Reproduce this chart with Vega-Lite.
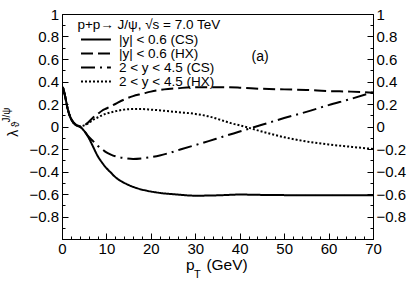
{
  "$schema": "https://vega.github.io/schema/vega-lite/v6.json",
  "width": 311,
  "height": 225,
  "autosize": {"type": "none"},
  "padding": {"left": 62, "top": 14, "right": 42, "bottom": 43},
  "background": "white",
  "config": {
    "font": "Liberation Sans",
    "view": {"stroke": "black", "strokeWidth": 1},
    "axis": {
      "grid": false,
      "labelFont": "Liberation Sans",
      "labelFontSize": 15,
      "labelColor": "black",
      "tickColor": "black",
      "domainColor": "black",
      "labelOverlap": false,
      "labelFlush": false,
      "labelBound": false
    },
    "text": {"font": "Liberation Sans", "color": "black"}
  },
  "resolve": {"axis": {"x": "independent", "y": "independent"}},
  "layer": [
    {
      "data": {
        "values": [
          {"series": "|y| < 0.6 (CS)", "pT": 0.2, "lam": 0.35},
          {"series": "|y| < 0.6 (CS)", "pT": 0.7, "lam": 0.27},
          {"series": "|y| < 0.6 (CS)", "pT": 1.2, "lam": 0.17},
          {"series": "|y| < 0.6 (CS)", "pT": 1.7, "lam": 0.1},
          {"series": "|y| < 0.6 (CS)", "pT": 2.3, "lam": 0.05},
          {"series": "|y| < 0.6 (CS)", "pT": 3, "lam": 0.02},
          {"series": "|y| < 0.6 (CS)", "pT": 4, "lam": 0.0},
          {"series": "|y| < 0.6 (CS)", "pT": 5, "lam": -0.04},
          {"series": "|y| < 0.6 (CS)", "pT": 6, "lam": -0.1},
          {"series": "|y| < 0.6 (CS)", "pT": 7, "lam": -0.18},
          {"series": "|y| < 0.6 (CS)", "pT": 8, "lam": -0.26},
          {"series": "|y| < 0.6 (CS)", "pT": 9, "lam": -0.32},
          {"series": "|y| < 0.6 (CS)", "pT": 10, "lam": -0.37},
          {"series": "|y| < 0.6 (CS)", "pT": 11, "lam": -0.41},
          {"series": "|y| < 0.6 (CS)", "pT": 12, "lam": -0.45},
          {"series": "|y| < 0.6 (CS)", "pT": 13.5, "lam": -0.49},
          {"series": "|y| < 0.6 (CS)", "pT": 15, "lam": -0.52},
          {"series": "|y| < 0.6 (CS)", "pT": 17, "lam": -0.55},
          {"series": "|y| < 0.6 (CS)", "pT": 19, "lam": -0.57},
          {"series": "|y| < 0.6 (CS)", "pT": 22, "lam": -0.59},
          {"series": "|y| < 0.6 (CS)", "pT": 26, "lam": -0.605},
          {"series": "|y| < 0.6 (CS)", "pT": 30, "lam": -0.615},
          {"series": "|y| < 0.6 (CS)", "pT": 35, "lam": -0.612},
          {"series": "|y| < 0.6 (CS)", "pT": 40, "lam": -0.605},
          {"series": "|y| < 0.6 (CS)", "pT": 45, "lam": -0.608},
          {"series": "|y| < 0.6 (CS)", "pT": 50, "lam": -0.61},
          {"series": "|y| < 0.6 (CS)", "pT": 60, "lam": -0.61},
          {"series": "|y| < 0.6 (CS)", "pT": 70, "lam": -0.61},

          {"series": "|y| < 0.6 (HX)", "pT": 0.2, "lam": 0.35},
          {"series": "|y| < 0.6 (HX)", "pT": 0.7, "lam": 0.27},
          {"series": "|y| < 0.6 (HX)", "pT": 1.2, "lam": 0.17},
          {"series": "|y| < 0.6 (HX)", "pT": 1.7, "lam": 0.1},
          {"series": "|y| < 0.6 (HX)", "pT": 2.3, "lam": 0.05},
          {"series": "|y| < 0.6 (HX)", "pT": 3, "lam": 0.015},
          {"series": "|y| < 0.6 (HX)", "pT": 4, "lam": 0.0},
          {"series": "|y| < 0.6 (HX)", "pT": 5, "lam": 0.01},
          {"series": "|y| < 0.6 (HX)", "pT": 6, "lam": 0.04},
          {"series": "|y| < 0.6 (HX)", "pT": 7, "lam": 0.08},
          {"series": "|y| < 0.6 (HX)", "pT": 8, "lam": 0.11},
          {"series": "|y| < 0.6 (HX)", "pT": 9, "lam": 0.14},
          {"series": "|y| < 0.6 (HX)", "pT": 10, "lam": 0.16},
          {"series": "|y| < 0.6 (HX)", "pT": 12, "lam": 0.2},
          {"series": "|y| < 0.6 (HX)", "pT": 14, "lam": 0.24},
          {"series": "|y| < 0.6 (HX)", "pT": 16, "lam": 0.27},
          {"series": "|y| < 0.6 (HX)", "pT": 18, "lam": 0.29},
          {"series": "|y| < 0.6 (HX)", "pT": 20, "lam": 0.31},
          {"series": "|y| < 0.6 (HX)", "pT": 23, "lam": 0.33},
          {"series": "|y| < 0.6 (HX)", "pT": 26, "lam": 0.34},
          {"series": "|y| < 0.6 (HX)", "pT": 30, "lam": 0.35},
          {"series": "|y| < 0.6 (HX)", "pT": 35, "lam": 0.35},
          {"series": "|y| < 0.6 (HX)", "pT": 40, "lam": 0.345},
          {"series": "|y| < 0.6 (HX)", "pT": 45, "lam": 0.335},
          {"series": "|y| < 0.6 (HX)", "pT": 50, "lam": 0.33},
          {"series": "|y| < 0.6 (HX)", "pT": 55, "lam": 0.325},
          {"series": "|y| < 0.6 (HX)", "pT": 60, "lam": 0.315},
          {"series": "|y| < 0.6 (HX)", "pT": 65, "lam": 0.31},
          {"series": "|y| < 0.6 (HX)", "pT": 70, "lam": 0.3},

          {"series": "2 < y < 4.5 (CS)", "pT": 0.2, "lam": 0.35},
          {"series": "2 < y < 4.5 (CS)", "pT": 0.7, "lam": 0.27},
          {"series": "2 < y < 4.5 (CS)", "pT": 1.2, "lam": 0.17},
          {"series": "2 < y < 4.5 (CS)", "pT": 1.7, "lam": 0.1},
          {"series": "2 < y < 4.5 (CS)", "pT": 2.3, "lam": 0.05},
          {"series": "2 < y < 4.5 (CS)", "pT": 3, "lam": 0.02},
          {"series": "2 < y < 4.5 (CS)", "pT": 4, "lam": 0.0},
          {"series": "2 < y < 4.5 (CS)", "pT": 5, "lam": -0.04},
          {"series": "2 < y < 4.5 (CS)", "pT": 6, "lam": -0.09},
          {"series": "2 < y < 4.5 (CS)", "pT": 7, "lam": -0.13},
          {"series": "2 < y < 4.5 (CS)", "pT": 8, "lam": -0.17},
          {"series": "2 < y < 4.5 (CS)", "pT": 9, "lam": -0.2},
          {"series": "2 < y < 4.5 (CS)", "pT": 10, "lam": -0.23},
          {"series": "2 < y < 4.5 (CS)", "pT": 11, "lam": -0.25},
          {"series": "2 < y < 4.5 (CS)", "pT": 12, "lam": -0.265},
          {"series": "2 < y < 4.5 (CS)", "pT": 14, "lam": -0.28},
          {"series": "2 < y < 4.5 (CS)", "pT": 16, "lam": -0.288},
          {"series": "2 < y < 4.5 (CS)", "pT": 18, "lam": -0.283},
          {"series": "2 < y < 4.5 (CS)", "pT": 20, "lam": -0.272},
          {"series": "2 < y < 4.5 (CS)", "pT": 22, "lam": -0.257},
          {"series": "2 < y < 4.5 (CS)", "pT": 24, "lam": -0.237},
          {"series": "2 < y < 4.5 (CS)", "pT": 27, "lam": -0.2},
          {"series": "2 < y < 4.5 (CS)", "pT": 30, "lam": -0.165},
          {"series": "2 < y < 4.5 (CS)", "pT": 33, "lam": -0.13},
          {"series": "2 < y < 4.5 (CS)", "pT": 36, "lam": -0.093},
          {"series": "2 < y < 4.5 (CS)", "pT": 40, "lam": -0.045},
          {"series": "2 < y < 4.5 (CS)", "pT": 45, "lam": 0.015},
          {"series": "2 < y < 4.5 (CS)", "pT": 50, "lam": 0.075},
          {"series": "2 < y < 4.5 (CS)", "pT": 55, "lam": 0.13},
          {"series": "2 < y < 4.5 (CS)", "pT": 60, "lam": 0.19},
          {"series": "2 < y < 4.5 (CS)", "pT": 65, "lam": 0.245},
          {"series": "2 < y < 4.5 (CS)", "pT": 70, "lam": 0.305},

          {"series": "2 < y < 4.5 (HX)", "pT": 0.2, "lam": 0.35},
          {"series": "2 < y < 4.5 (HX)", "pT": 0.7, "lam": 0.27},
          {"series": "2 < y < 4.5 (HX)", "pT": 1.2, "lam": 0.17},
          {"series": "2 < y < 4.5 (HX)", "pT": 1.7, "lam": 0.1},
          {"series": "2 < y < 4.5 (HX)", "pT": 2.3, "lam": 0.05},
          {"series": "2 < y < 4.5 (HX)", "pT": 3, "lam": 0.015},
          {"series": "2 < y < 4.5 (HX)", "pT": 4, "lam": 0.0},
          {"series": "2 < y < 4.5 (HX)", "pT": 5, "lam": 0.01},
          {"series": "2 < y < 4.5 (HX)", "pT": 6, "lam": 0.03},
          {"series": "2 < y < 4.5 (HX)", "pT": 7, "lam": 0.06},
          {"series": "2 < y < 4.5 (HX)", "pT": 8, "lam": 0.08},
          {"series": "2 < y < 4.5 (HX)", "pT": 9, "lam": 0.1},
          {"series": "2 < y < 4.5 (HX)", "pT": 10, "lam": 0.115},
          {"series": "2 < y < 4.5 (HX)", "pT": 12, "lam": 0.135},
          {"series": "2 < y < 4.5 (HX)", "pT": 14, "lam": 0.15},
          {"series": "2 < y < 4.5 (HX)", "pT": 16, "lam": 0.155},
          {"series": "2 < y < 4.5 (HX)", "pT": 18, "lam": 0.155},
          {"series": "2 < y < 4.5 (HX)", "pT": 20, "lam": 0.15},
          {"series": "2 < y < 4.5 (HX)", "pT": 23, "lam": 0.14},
          {"series": "2 < y < 4.5 (HX)", "pT": 26, "lam": 0.128},
          {"series": "2 < y < 4.5 (HX)", "pT": 30, "lam": 0.112},
          {"series": "2 < y < 4.5 (HX)", "pT": 33, "lam": 0.09},
          {"series": "2 < y < 4.5 (HX)", "pT": 36, "lam": 0.055},
          {"series": "2 < y < 4.5 (HX)", "pT": 38, "lam": 0.03},
          {"series": "2 < y < 4.5 (HX)", "pT": 41, "lam": 0.0},
          {"series": "2 < y < 4.5 (HX)", "pT": 45, "lam": -0.045},
          {"series": "2 < y < 4.5 (HX)", "pT": 50, "lam": -0.095},
          {"series": "2 < y < 4.5 (HX)", "pT": 55, "lam": -0.133},
          {"series": "2 < y < 4.5 (HX)", "pT": 60, "lam": -0.16},
          {"series": "2 < y < 4.5 (HX)", "pT": 65, "lam": -0.18},
          {"series": "2 < y < 4.5 (HX)", "pT": 70, "lam": -0.2}
        ]
      },
      "mark": {"type": "line", "interpolate": "monotone", "strokeWidth": 2, "color": "black", "strokeCap": "butt"},
      "encoding": {
        "x": {
          "field": "pT", "type": "quantitative",
          "scale": {"domain": [0, 70], "nice": false, "zero": false},
          "axis": {
            "orient": "bottom", "title": null,
            "values": [0,2,4,6,8,10,12,14,16,18,20,22,24,26,28,30,32,34,36,38,40,42,44,46,48,50,52,54,56,58,60,62,64,66,68,70],
            "tickSize": {"condition": {"test": "datum.value % 10 == 0", "value": -6}, "value": -3},
            "labelExpr": "datum.value % 10 == 0 ? format(datum.value, 'd') : ''",
            "labelPadding": 8
          }
        },
        "y": {
          "field": "lam", "type": "quantitative",
          "scale": {"domain": [-1, 1], "nice": false, "zero": false},
          "axis": {
            "orient": "left", "title": null,
            "values": [-1,-0.9,-0.8,-0.7,-0.6,-0.5,-0.4,-0.3,-0.2,-0.1,0,0.1,0.2,0.3,0.4,0.5,0.6,0.7,0.8,0.9,1],
            "tickSize": {"condition": {"test": "abs(round(datum.value*10)) % 2 == 0", "value": -6}, "value": -3},
            "labelExpr": "abs(round(datum.value*10)) % 2 == 0 && datum.value > -0.95 ? format(datum.value, '~g') : ''",
            "labelPadding": 9.5
          }
        },
        "strokeDash": {
          "field": "series", "type": "nominal",
          "scale": {
            "domain": ["|y| < 0.6 (CS)", "|y| < 0.6 (HX)", "2 < y < 4.5 (CS)", "2 < y < 4.5 (HX)"],
            "range": [[1, 0], [12, 5], [14, 5, 2, 5], [2, 2]]
          },
          "legend": {
            "orient": "none", "legendX": 15.4, "legendY": 4,
            "title": "p+p→ J/ψ, √s = 7.0 TeV",
            "titleFont": "Liberation Sans", "titleFontSize": 13.5, "titleFontWeight": "normal", "titleColor": "black", "titleLimit": 400,
            "titlePadding": 0.5,
            "labelFont": "Liberation Sans", "labelFontSize": 13.5, "labelColor": "black", "labelLimit": 400,
            "symbolType": "M-0.6,0L4,0", "symbolSize": 169, "symbolStrokeWidth": 2, "symbolStrokeColor": "black",
            "labelOffset": 26.5, "rowPadding": -1.8, "padding": 0
          }
        }
      }
    },
    {
      "data": {"values": [{}]},
      "mark": {"type": "text", "text": "(a)", "fontSize": 14, "align": "center", "baseline": "middle"},
      "encoding": {
        "x": {"datum": 44.6, "type": "quantitative", "scale": {"domain": [0, 70], "nice": false, "zero": false}, "axis": null},
        "y": {
          "datum": 0.62, "type": "quantitative",
          "scale": {"domain": [-1, 1], "nice": false, "zero": false},
          "axis": {
            "orient": "right", "title": null,
            "values": [-1,-0.9,-0.8,-0.7,-0.6,-0.5,-0.4,-0.3,-0.2,-0.1,0,0.1,0.2,0.3,0.4,0.5,0.6,0.7,0.8,0.9,1],
            "tickSize": {"condition": {"test": "abs(round(datum.value*10)) % 2 == 0", "value": -6}, "value": -3},
            "labelExpr": "abs(round(datum.value*10)) % 2 == 0 && datum.value > -0.95 ? format(datum.value, '~g') : ''",
            "labelPadding": 9
          }
        }
      }
    },
    {
      "data": {"values": [{}]},
      "mark": {"type": "text", "text": "λ", "fontSize": 14, "angle": 270, "align": "center", "baseline": "middle"},
      "encoding": {
        "x": {"datum": -10.8, "type": "quantitative", "scale": {"domain": [0, 70], "nice": false, "zero": false}, "axis": null},
        "y": {"datum": -0.06, "type": "quantitative", "scale": {"domain": [-1, 1], "nice": false, "zero": false}, "axis": null}
      }
    },
    {
      "data": {"values": [{}]},
      "mark": {"type": "text", "text": "ϑ", "fontSize": 10, "angle": 270, "align": "center", "baseline": "middle"},
      "encoding": {
        "x": {"datum": -10.4, "type": "quantitative", "scale": {"domain": [0, 70], "nice": false, "zero": false}, "axis": null},
        "y": {"datum": 0.018, "type": "quantitative", "scale": {"domain": [-1, 1], "nice": false, "zero": false}, "axis": null}
      }
    },
    {
      "data": {"values": [{}]},
      "mark": {"type": "text", "text": "J/ψ", "fontSize": 10, "angle": 270, "align": "center", "baseline": "middle"},
      "encoding": {
        "x": {"datum": -12.45, "type": "quantitative", "scale": {"domain": [0, 70], "nice": false, "zero": false}, "axis": null},
        "y": {"datum": 0.102, "type": "quantitative", "scale": {"domain": [-1, 1], "nice": false, "zero": false}, "axis": null}
      }
    },
    {
      "data": {"values": [{}]},
      "mark": {"type": "text", "text": "p", "fontSize": 15.5, "align": "left", "baseline": "alphabetic"},
      "encoding": {
        "x": {"datum": 27.91, "type": "quantitative", "scale": {"domain": [0, 70], "nice": false, "zero": false}, "axis": null},
        "y": {"datum": -1.2756, "type": "quantitative", "scale": {"domain": [-1, 1], "nice": false, "zero": false}, "axis": null}
      }
    },
    {
      "data": {"values": [{}]},
      "mark": {"type": "text", "text": "T", "fontSize": 11, "align": "left", "baseline": "alphabetic"},
      "encoding": {
        "x": {"datum": 29.7, "type": "quantitative", "scale": {"domain": [0, 70], "nice": false, "zero": false}, "axis": null},
        "y": {"datum": -1.348, "type": "quantitative", "scale": {"domain": [-1, 1], "nice": false, "zero": false}, "axis": null}
      }
    },
    {
      "data": {"values": [{}]},
      "mark": {"type": "text", "text": "(GeV)", "fontSize": 15.5, "align": "left", "baseline": "alphabetic"},
      "encoding": {
        "x": {"datum": 32.5, "type": "quantitative", "scale": {"domain": [0, 70], "nice": false, "zero": false}, "axis": null},
        "y": {"datum": -1.2756, "type": "quantitative", "scale": {"domain": [-1, 1], "nice": false, "zero": false}, "axis": null}
      }
    }
  ]
}
